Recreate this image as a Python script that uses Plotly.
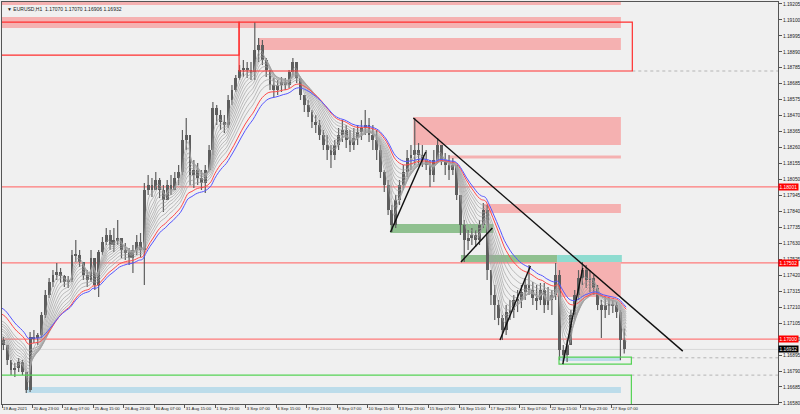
import plotly.graph_objects as go

# ---------------- data (EURUSD H1, grouped in blocks of 4 hourly bars) ----------------
open_first = 1.16994
high = [1.17014, 1.16961, 1.16862, 1.16842, 1.16875, 1.16862, 1.16783, 1.17046, 1.17060, 1.17040,
        1.17178, 1.17323, 1.17402, 1.17454, 1.17500, 1.17468, 1.17421, 1.17415, 1.17586, 1.17652,
        1.17586, 1.17507, 1.17454, 1.17586, 1.17533, 1.17586, 1.17672, 1.17731, 1.17718, 1.17731,
        1.17783, 1.17652, 1.17632, 1.17599, 1.17619, 1.17685, 1.17698, 1.18027, 1.18079, 1.18060,
        1.18099, 1.18060, 1.18014, 1.18047, 1.18079, 1.18099, 1.18145, 1.18376, 1.18455, 1.18310,
        1.18178, 1.18158, 1.18112, 1.18145, 1.18277, 1.18560, 1.18540, 1.18507, 1.18474, 1.18606,
        1.18672, 1.18737, 1.18803, 1.18836, 1.18823, 1.18823, 1.19086, 1.18981, 1.18968, 1.18849,
        1.18770, 1.18718, 1.18705, 1.18724, 1.18718, 1.18770, 1.18849, 1.18823, 1.18718, 1.18606,
        1.18573, 1.18507, 1.18474, 1.18441, 1.18376, 1.18343, 1.18277, 1.18310, 1.18389, 1.18441,
        1.18408, 1.18376, 1.18389, 1.18408, 1.18441, 1.18507, 1.18455, 1.18408, 1.18376, 1.18277,
        1.18112, 1.18047, 1.17882, 1.17948, 1.18047, 1.18145, 1.18244, 1.18277, 1.18455, 1.18290,
        1.18277, 1.18244, 1.18178, 1.18244, 1.18323, 1.18277, 1.18224, 1.18211, 1.18191, 1.18145,
        1.17948, 1.17783, 1.17718, 1.17731, 1.17718, 1.17783, 1.17895, 1.17882, 1.17454, 1.17356,
        1.17257, 1.17158, 1.17224, 1.17257, 1.17290, 1.17323, 1.17356, 1.17402, 1.17487, 1.17375,
        1.17356, 1.17369, 1.17369, 1.17343, 1.17323, 1.17500, 1.17454, 1.16961, 1.16994, 1.17191,
        1.17323, 1.17454, 1.17507, 1.17487, 1.17454, 1.17421, 1.17356, 1.17257, 1.17277, 1.17270,
        1.17257, 1.17244, 1.17191, 1.17070]
low = [1.16928, 1.16829, 1.16763, 1.16750, 1.16783, 1.16763, 1.16645, 1.16652, 1.16974, 1.16961,
       1.17007, 1.17139, 1.17270, 1.17343, 1.17389, 1.17369, 1.17343, 1.17336, 1.17375, 1.17507,
       1.17474, 1.17389, 1.17343, 1.17375, 1.17323, 1.17277, 1.17553, 1.17619, 1.17586, 1.17573,
       1.17619, 1.17533, 1.17520, 1.17487, 1.17435, 1.17553, 1.17540, 1.17356, 1.17948, 1.17935,
       1.17981, 1.17928, 1.17836, 1.17915, 1.17948, 1.17981, 1.18014, 1.18079, 1.18244, 1.18014,
       1.17994, 1.18014, 1.17981, 1.17961, 1.18112, 1.18211, 1.18408, 1.18376, 1.18356, 1.18389,
       1.18540, 1.18626, 1.18705, 1.18724, 1.18718, 1.18705, 1.18705, 1.18823, 1.18803, 1.18724,
       1.18639, 1.18593, 1.18606, 1.18626, 1.18639, 1.18652, 1.18737, 1.18685, 1.18573, 1.18494,
       1.18461, 1.18389, 1.18356, 1.18310, 1.18244, 1.18178, 1.18126, 1.18178, 1.18244, 1.18297,
       1.18257, 1.18231, 1.18244, 1.18277, 1.18310, 1.18343, 1.18297, 1.18244, 1.18178, 1.18060,
       1.17968, 1.17816, 1.17704, 1.17731, 1.17882, 1.17981, 1.18066, 1.18112, 1.18145, 1.18145,
       1.18132, 1.18112, 1.18001, 1.18033, 1.18165, 1.18145, 1.18079, 1.18047, 1.18079, 1.17915,
       1.17685, 1.17507, 1.17586, 1.17619, 1.17606, 1.17619, 1.17731, 1.17389, 1.17224, 1.17125,
       1.17092, 1.16994, 1.17027, 1.17125, 1.17139, 1.17178, 1.17204, 1.17257, 1.17290, 1.17224,
       1.17191, 1.17224, 1.17171, 1.17191, 1.17158, 1.17257, 1.16862, 1.16849, 1.16849, 1.16961,
       1.17125, 1.17257, 1.17356, 1.17336, 1.17310, 1.17290, 1.17191, 1.17007, 1.17139, 1.17158,
       1.17171, 1.17139, 1.16862, 1.16906]
close = [1.16961, 1.16862, 1.16796, 1.16810, 1.16849, 1.16783, 1.16665, 1.17014, 1.17007, 1.17027,
         1.17158, 1.17290, 1.17375, 1.17421, 1.17441, 1.17415, 1.17375, 1.17389, 1.17553, 1.17553,
         1.17507, 1.17421, 1.17389, 1.17533, 1.17356, 1.17573, 1.17639, 1.17685, 1.17619, 1.17652,
         1.17665, 1.17586, 1.17573, 1.17533, 1.17586, 1.17639, 1.17586, 1.17981, 1.18014, 1.17981,
         1.18047, 1.17981, 1.17915, 1.18014, 1.17981, 1.18060, 1.18099, 1.18310, 1.18343, 1.18079,
         1.18112, 1.18060, 1.18027, 1.18112, 1.18244, 1.18520, 1.18474, 1.18428, 1.18408, 1.18573,
         1.18639, 1.18718, 1.18770, 1.18784, 1.18770, 1.18757, 1.18902, 1.18935, 1.18836, 1.18770,
         1.18672, 1.18639, 1.18672, 1.18691, 1.18672, 1.18757, 1.18823, 1.18718, 1.18606, 1.18540,
         1.18494, 1.18428, 1.18408, 1.18343, 1.18277, 1.18244, 1.18211, 1.18277, 1.18343, 1.18376,
         1.18310, 1.18277, 1.18323, 1.18362, 1.18389, 1.18408, 1.18343, 1.18310, 1.18244, 1.18099,
         1.18014, 1.17849, 1.17750, 1.17915, 1.18014, 1.18099, 1.18191, 1.18211, 1.18244, 1.18211,
         1.18178, 1.18145, 1.18079, 1.18178, 1.18277, 1.18178, 1.18145, 1.18112, 1.18145, 1.17948,
         1.17750, 1.17652, 1.17665, 1.17685, 1.17652, 1.17750, 1.17849, 1.17454, 1.17290, 1.17224,
         1.17139, 1.17060, 1.17178, 1.17191, 1.17257, 1.17257, 1.17310, 1.17356, 1.17323, 1.17270,
         1.17257, 1.17323, 1.17224, 1.17257, 1.17290, 1.17421, 1.16928, 1.16895, 1.16961, 1.17158,
         1.17290, 1.17402, 1.17454, 1.17389, 1.17402, 1.17336, 1.17224, 1.17191, 1.17224, 1.17224,
         1.17224, 1.17178, 1.16994, 1.16932]

time_labels = ["19 Aug 2021", "20 Aug 23:00", "24 Aug 07:00", "25 Aug 15:00", "26 Aug 23:00",
               "30 Aug 07:00", "31 Aug 15:00", "1 Sep 23:00", "3 Sep 07:00", "6 Sep 15:00",
               "7 Sep 23:00", "9 Sep 07:00", "10 Sep 15:00", "13 Sep 23:00", "15 Sep 07:00",
               "16 Sep 15:00", "17 Sep 23:00", "21 Sep 07:00", "22 Sep 15:00", "23 Sep 23:00",
               "27 Sep 07:00"]
price_labels = ["1.19205", "1.19100", "1.18995", "1.18890", "1.18785", "1.18685", "1.18575",
                "1.18470", "1.18365", "1.18260", "1.18155", "1.18050", "1.17945", "1.17840",
                "1.17735", "1.17630", "1.17525", "1.17420", "1.17315", "1.17210", "1.17105",
                "1.17000", "1.16895", "1.16790", "1.16685", "1.16580"]

# moving-average ribbon (periods in hours) and their values at the left edge
ema_gray_periods = [8, 12, 16, 20, 25, 30, 36, 42, 50, 58]
ema_gray_start = [1.16981, 1.16994, 1.17014, 1.17027, 1.17040, 1.17060, 1.17073, 1.17092, 1.17106, 1.17125]
ema_red_period, ema_red_start = 70, 1.17171
ema_blue_period, ema_blue_start = 80, 1.17211

levels = [1.18001, 1.17502, 1.17000]
bid_price = 1.16932

# zones: (bar from, bar to, price low, price high)
pink_zones = [(-10, 650, 1.19198, 1.19300), (-10, 650, 1.19047, 1.19119), (270, 650, 1.18902, 1.18981),
              (432, 650, 1.18277, 1.18461), (469, 650, 1.18188, 1.18208), (506, 650, 1.17829, 1.17889),
              (583, 650, 1.17277, 1.17507)]
green_zones = [(408, 516, 1.17698, 1.17757), (482, 583, 1.17507, 1.17553)]
cyan_zones = [(583, 651, 1.17507, 1.17553)]
blue_zones = [(25, 650, 1.16645, 1.16685), (585, 650, 1.16856, 1.16882)]
red_boxes = [(-10, 249, 1.18869, 1.19086), (249, 662, 1.18764, 1.19086)]
green_boxes = [(585, 661, 1.16836, 1.16882), (-10, 661, 1.16400, 1.16763)]
dotted_levels = [(662, 900, 1.18764), (661, 900, 1.16877), (661, 900, 1.16763)]
trend_lines = [(432, 1.18455, 715, 1.16921), (408, 1.17704, 445, 1.18231),
               (482, 1.17507, 515, 1.17731), (523, 1.16994, 555, 1.17481),
               (589, 1.16836, 610, 1.17468)]

# ---------------- figure ----------------
BG = "#f0f0f0"
CANDLE = "#5e5e5e"
FONT = "Liberation Sans Narrow, Liberation Sans, Arial"

n = len(close)
xs = [4 * k + 1.5 for k in range(n)]
opens = [open_first] + close[:-1]

fig = go.Figure()

wx, wy = [], []
for x, o, h, l, c in zip(xs, opens, high, low, close):
    wx += [x, x, None]
    wy += [max(h, o, c), min(l, o, c), None]
fig.add_trace(go.Scatter(x=wx, y=wy, mode="lines", line=dict(color=CANDLE, width=1.2),
                         hoverinfo="skip", showlegend=False))
fig.add_trace(go.Bar(x=xs, y=[max(abs(c - o), 0.00003) for o, c in zip(opens, close)],
                     base=[min(o, c) for o, c in zip(opens, close)], width=3.0,
                     marker=dict(color=CANDLE, line=dict(width=0)), showlegend=False))


def ema(period, start):
    a = 2.0 / (period + 1)
    A = 1 - (1 - a) ** 4
    out, v = [], start
    for c in close:
        v = v + A * (c - v)
        out.append(v)
    return out


ema_x = [-2] + [4 * k + 3.5 for k in range(n)]
for p, s in zip(ema_gray_periods, ema_gray_start):
    fig.add_trace(go.Scatter(x=ema_x, y=[s] + ema(p, s), mode="lines", line=dict(color="#a0a0a0", width=0.7),
                             line_shape="spline", hoverinfo="skip", showlegend=False))
fig.add_trace(go.Scatter(x=ema_x, y=[ema_red_start] + ema(ema_red_period, ema_red_start), mode="lines",
                         line=dict(color="#ff4a4a", width=1), line_shape="spline", showlegend=False))
fig.add_trace(go.Scatter(x=ema_x, y=[ema_blue_start] + ema(ema_blue_period, ema_blue_start), mode="lines",
                         line=dict(color="#5555ff", width=1), line_shape="spline", showlegend=False))

shapes = []


def rect(z, fill, layer="below", line=None):
    d = dict(type="rect", xref="x", yref="y", x0=z[0], x1=z[1], y0=z[2], y1=z[3],
             fillcolor=fill, layer=layer, line=dict(width=0))
    if line:
        d["line"] = line
    shapes.append(d)


for z in pink_zones:
    rect(z, "#f5b1b1")
for z in green_zones:
    rect(z, "#8fc08f")
for z in cyan_zones:
    rect(z, "#8edcd0")
for z in blue_zones:
    rect(z, "#bcdcea")
for z in red_boxes:
    rect(z, "rgba(0,0,0,0)", layer="above", line=dict(color="#ff2e2e", width=1.2))
for z in green_boxes:
    rect(z, "rgba(0,0,0,0)", layer="above", line=dict(color="#55d255", width=1.2))
for lv in levels:
    shapes.append(dict(type="line", xref="paper", yref="y", x0=0, x1=1, y0=lv, y1=lv,
                       line=dict(color="#ff7a7a", width=1.3), layer="below"))
shapes.append(dict(type="line", xref="paper", yref="y", x0=0, x1=1, y0=bid_price, y1=bid_price,
                   line=dict(color="#d8d8d8", width=1), layer="below"))
for x0, x1, lv in dotted_levels:
    shapes.append(dict(type="line", xref="x", yref="y", x0=x0, x1=x1, y0=lv, y1=lv,
                       line=dict(color="#b4b4b4", width=1, dash="dot"), layer="below"))
for x0, y0, x1, y1 in trend_lines:
    shapes.append(dict(type="line", xref="x", yref="y", x0=x0, x1=x1, y0=y0, y1=y1,
                       line=dict(color="#111111", width=1.4), layer="above"))

annotations = [dict(xref="paper", yref="paper", x=0.004, y=0.995, xanchor="left", yanchor="top",
                    text="▼ EURUSD,H1  1.17070 1.17070 1.16906 1.16932", showarrow=False,
                    font=dict(family=FONT, size=5, color="#222222"))]
for lv in levels:
    annotations.append(dict(xref="paper", yref="y", x=1, y=lv, xanchor="left", yanchor="middle",
                            text=f"{lv:.5f}", showarrow=False, bgcolor="#ff0000", borderpad=0.5,
                            font=dict(family=FONT, size=4.8, color="white")))
annotations.append(dict(xref="paper", yref="y", x=1, y=bid_price, xanchor="left", yanchor="middle",
                        text=f"{bid_price:.5f}", showarrow=False, bgcolor="#000000", borderpad=0.5,
                        font=dict(family=FONT, size=4.8, color="white")))

tick_vals_y = [1.19205 - 0.00105 * k for k in range(len(price_labels))]

fig.update_layout(
    width=800, height=414, margin=dict(l=2, r=22, t=2, b=10, autoexpand=False),
    paper_bgcolor=BG, plot_bgcolor=BG, showlegend=False, bargap=0,
    shapes=shapes, annotations=annotations,
    xaxis=dict(range=[0, 815], tickvals=[32 * k for k in range(len(time_labels))], ticktext=time_labels,
               ticks="outside", ticklen=3, tickcolor="#555555", showgrid=False, zeroline=False,
               showline=True, linecolor="#555555", linewidth=1, mirror=True, tickangle=0,
               automargin=False, ticklabelposition="outside right",
               tickfont=dict(family=FONT, size=4.3, color="#222222"), fixedrange=True),
    yaxis=dict(range=[1.16573, 1.19218], side="right", tickvals=tick_vals_y, ticktext=price_labels,
               ticks="outside", ticklen=3, tickcolor="#555555", showgrid=False, zeroline=False,
               showline=True, linecolor="#555555", linewidth=1, mirror=True, automargin=False,
               tickfont=dict(family=FONT, size=4.8, color="#222222"), fixedrange=True),
)

fig.write_html("out.html", config={"displayModeBar": False},
               post_script="document.body.style.margin='0px';document.body.style.overflow='hidden';")
